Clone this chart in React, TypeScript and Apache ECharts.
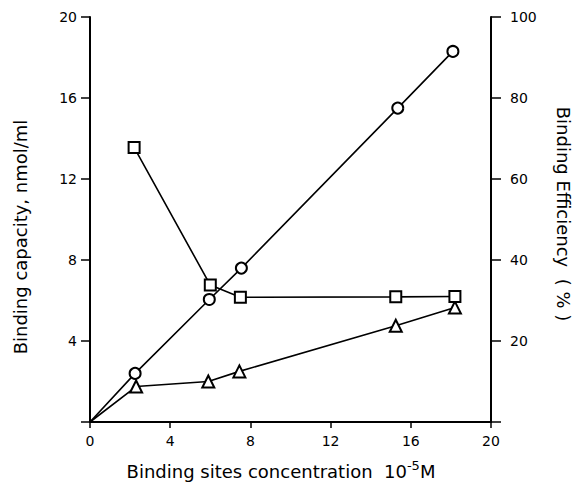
import React, { useEffect, useRef } from "react";
import * as echarts from "echarts";

const xCircles = [0, 2.25, 5.95, 7.55, 15.35, 18.1];
const capacityCircles = [0, 2.4, 6.05, 7.6, 15.5, 18.3];
const xTriangles = [0, 2.3, 5.9, 7.45, 15.25, 18.2];
const capacityTriangles = [0, 1.75, 2.0, 2.5, 4.75, 5.65];
const xSquares = [2.2, 6.0, 7.5, 15.25, 18.2];
const efficiencySquares = [67.8, 33.8, 30.8, 30.9, 31.0];

const FONT = "'DejaVu Sans', 'Liberation Sans', sans-serif";

export default function App() {
  const ref = useRef<HTMLDivElement>(null);
  useEffect(() => {
    if (!ref.current) return;
    const chart = echarts.init(ref.current, undefined, { renderer: "svg" });
    const pair = (xs: number[], ys: number[]) => xs.map((x, i) => [x, ys[i]]);
    const marker = { color: "#fff", borderColor: "#000", borderWidth: 2 };
    const line = { color: "#000", width: 1.6 };
    const tickLabel = { color: "#000", fontSize: 14, fontFamily: FONT };
    chart.setOption({
      animation: false,
      backgroundColor: "#fff",
      grid: { left: 90, right: 92, top: 17, bottom: 61 },
      xAxis: {
        type: "value",
        min: 0,
        max: 20,
        interval: 4,
        axisLine: { show: true, lineStyle: { color: "#000", width: 2 } },
        axisTick: { show: true, length: 6, lineStyle: { color: "#000", width: 1.5 } },
        axisLabel: { ...tickLabel, margin: 12 },
        splitLine: { show: false },
      },
      yAxis: [
        {
          type: "value",
          min: 0,
          max: 20,
          interval: 4,
          position: "left",
          axisLine: { show: true, lineStyle: { color: "#000", width: 2 } },
          axisTick: { show: true, length: 9, lineStyle: { color: "#000", width: 1.5 } },
          axisLabel: {
            ...tickLabel,
            margin: 13,
            formatter: (v: number) => (v === 0 ? "" : String(v)),
          },
          splitLine: { show: false },
        },
        {
          type: "value",
          min: 0,
          max: 100,
          interval: 20,
          position: "right",
          axisLine: { show: true, lineStyle: { color: "#000", width: 2 } },
          axisTick: { show: true, length: 10, lineStyle: { color: "#000", width: 1.5 } },
          axisLabel: {
            ...tickLabel,
            margin: 19,
            formatter: (v: number) => (v === 0 ? "" : String(v)),
          },
          splitLine: { show: false },
        },
      ],
      graphic: [
        {
          type: "text",
          x: 20,
          y: 237,
          rotation: Math.PI / 2,
          style: {
            text: "Binding capacity, nmol/ml",
            font: `18px ${FONT}`,
            fill: "#000",
            align: "center",
            verticalAlign: "middle",
          },
        },
        {
          type: "text",
          x: 563,
          y: 214,
          rotation: -Math.PI / 2,
          style: {
            text: "Binding Efficiency  ( % )",
            font: `18px ${FONT}`,
            fill: "#000",
            align: "center",
            verticalAlign: "middle",
          },
        },
        {
          type: "text",
          x: 281,
          y: 471,
          style: {
            text: "{a|Binding sites concentration  10}{s|-5}{a|M}",
            font: `18px ${FONT}`,
            fill: "#000",
            align: "center",
            verticalAlign: "middle",
            rich: {
              a: { font: `18px ${FONT}`, fill: "#000", lineHeight: 20 },
              s: { font: `13px ${FONT}`, fill: "#000", lineHeight: 20, padding: [0, 0, 12, 0] },
            },
          },
        },
      ],
      series: [
        {
          type: "line",
          yAxisIndex: 0,
          data: pair(xCircles, capacityCircles),
          symbol: (v: number[]) => (v[0] === 0 ? "none" : "circle"),
          symbolSize: 11,
          itemStyle: marker,
          lineStyle: line,
          z: 3,
        },
        {
          type: "line",
          yAxisIndex: 0,
          data: pair(xTriangles, capacityTriangles),
          symbol: (v: number[]) => (v[0] === 0 ? "none" : "triangle"),
          symbolSize: 12,
          itemStyle: marker,
          lineStyle: line,
          z: 3,
        },
        {
          type: "line",
          yAxisIndex: 1,
          data: pair(xSquares, efficiencySquares),
          symbol: "rect",
          symbolSize: 11,
          itemStyle: marker,
          lineStyle: line,
          z: 4,
        },
      ],
    });
    return () => chart.dispose();
  }, []);
  return (
    <div
      ref={ref}
      style={{ position: "fixed", left: 0, top: 0, width: 583, height: 483 }}
    />
  );
}
